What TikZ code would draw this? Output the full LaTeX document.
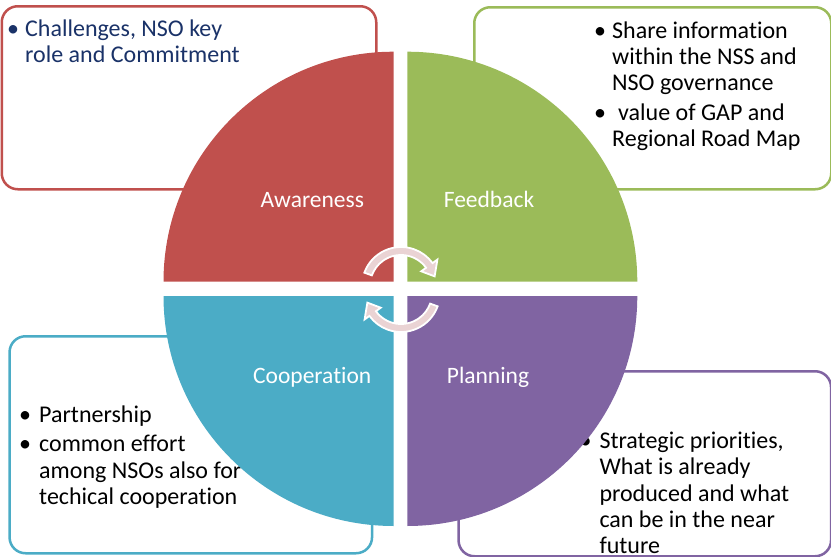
\documentclass[tikz,border=0pt]{standalone}
\usepackage{fontspec}
\setmainfont{Carlito}[Ligatures=NoCommon]
\definecolor{cred}{HTML}{C0504D}
\definecolor{cgreen}{HTML}{9BBB59}
\definecolor{cblue}{HTML}{4BACC6}
\definecolor{cpurple}{HTML}{8064A2}
\definecolor{navy}{HTML}{1A3268}
\definecolor{arrowpink}{HTML}{EAD3D4}
\tikzset{
  box/.style={line width=2.5pt, rounded corners=16pt, fill=white, inner sep=0pt, anchor=north west},
  txt/.style={anchor=base west, inner sep=0pt, font=\fontsize{24}{26}\selectfont},
  bul/.style={anchor=base, inner sep=0pt, font=\fontsize{24}{26}\selectfont},
  lbl/.style={anchor=base, inner sep=0pt, text=white, font=\fontsize{23.5}{26}\selectfont},
  cyc/.style={fill=arrowpink, draw=white, line width=1.8pt, line join=miter},
}
\begin{document}
\begin{tikzpicture}[x=1pt, y=-1pt]
\useasboundingbox (0,0) rectangle (831,557);
% outlined text boxes
\node[box, draw=cred, minimum width=374.5pt, minimum height=183pt] (boxA) at (0.5,5) {};
\node[box, draw=cgreen, minimum width=357pt, minimum height=182pt] (boxF) at (473,6) {};
\node[box, draw=cblue, minimum width=362.5pt, minimum height=217pt] (boxC) at (8.3,335) {};
\node[box, draw=cpurple, minimum width=372.5pt, minimum height=185pt] (boxP) at (457.3,370) {};
% texts
\begin{scope}[text=navy]
\node[bul] (a0) at (13,36.7) {•};
\node[txt] (a1) at (25,36.7) {Challenges, NSO key};
\node[txt] (a2) at (25,62.7) {role and Commitment};
\end{scope}
\node[bul] (f0) at (600,38) {•};
\node[txt] (f1) at (612,38) {Share information};
\node[txt] (f2) at (612,64) {within the NSS and};
\node[txt] (f3) at (612,90) {NSO governance};
\node[bul] (f4) at (600,120) {•};
\node[txt] (f5) at (618,120) {value of GAP and};
\node[txt] (f6) at (612,146) {Regional Road Map};
\node[bul] (c0) at (25,422) {•};
\node[txt] (c1) at (39,422) {Partnership};
\node[bul] (c2) at (25,451) {•};
\node[txt] (c3) at (39,451) {common effort};
\node[txt] (c4) at (39,478) {among NSOs also for};
\node[txt] (c5) at (39,504.5) {techical cooperation};
\node[bul] (p0) at (585.5,448) {•};
\node[txt] (p1) at (599.3,448) {Strategic priorities,};
\node[txt] (p2) at (599.3,474.5) {What is already};
\node[txt] (p3) at (599.3,501) {produced and what};
\node[txt] (p4) at (599.3,527.5) {can be in the near};
\node[txt] (p5) at (599.3,553) {future};
% quadrants
\fill[cred] (393.5,281.7) -- ++(-230,0) arc[start angle=180, end angle=270, radius=230] -- cycle;
\fill[cgreen] (407.3,281.7) -- ++(230,0) arc[start angle=0, end angle=-90, radius=230] -- cycle;
\fill[cblue] (393.5,296) -- ++(-230,0) arc[start angle=180, end angle=90, radius=230] -- cycle;
\fill[cpurple] (407.3,296) -- ++(230,0) arc[start angle=0, end angle=90, radius=230] -- cycle;
% labels
\node[lbl] (lA) at (312.3,207.7) {Awareness};
\node[lbl] (lF) at (489,207.7) {Feedback};
\node[lbl] (lC) at (312.2,383.3) {Cooperation};
\node[lbl] (lP) at (488,383.3) {Planning};
% circular arrows
\begin{scope}[shift={(401,286)}, yscale=-1]
\filldraw[cyc] (160:39) arc[start angle=160, end angle=36, radius=39] -- (36:45) -- (16:35) -- (36:25) -- (36:31) arc[start angle=36, end angle=160, radius=31] -- cycle;
\end{scope}
\begin{scope}[shift={(401,293)}, yscale=-1]
\filldraw[cyc] (340:39) arc[start angle=340, end angle=216, radius=39] -- (216:45) -- (196:35) -- (216:25) -- (216:31) arc[start angle=216, end angle=340, radius=31] -- cycle;
\end{scope}
\end{tikzpicture}
\end{document}
